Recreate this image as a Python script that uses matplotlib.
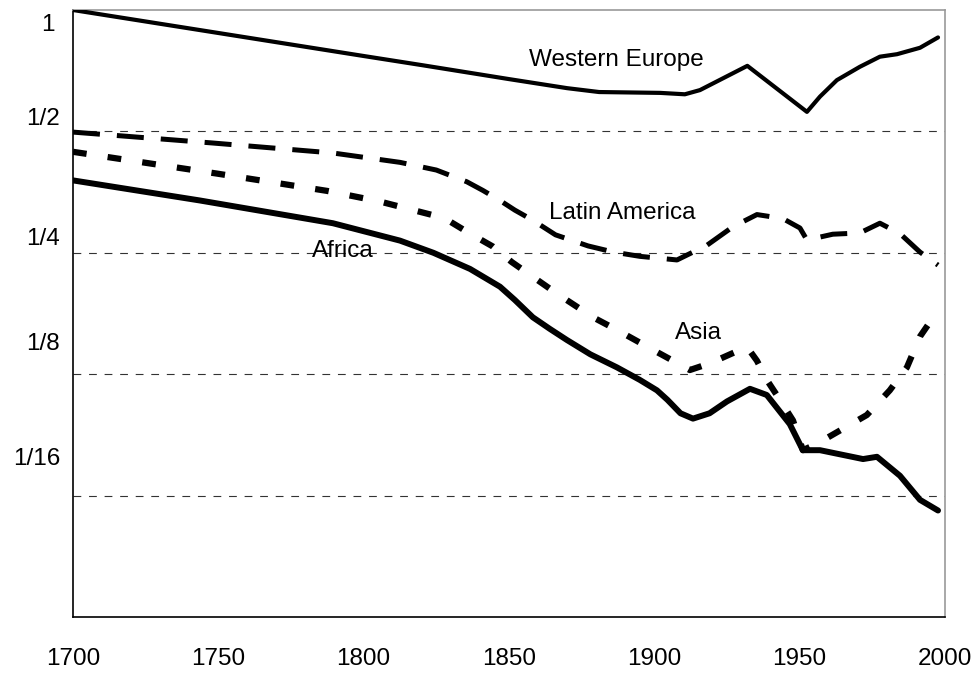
import matplotlib.pyplot as plt

plt.rcParams['font.family'] = ['Liberation Sans', 'DejaVu Sans']

# Data (values relative to Western Europe in 1700)
we_years = [1700, 1750, 1800, 1820, 1850, 1870, 1881, 1902, 1910.5, 1915.7,
            1932, 1952.5, 1957, 1962.8, 1970.7, 1977.6, 1983.5, 1991.4, 1997.6]
we_vals = [1.0, 0.877, 0.769, 0.730, 0.674, 0.640, 0.626, 0.623, 0.618, 0.633,
           0.727, 0.559, 0.610, 0.670, 0.723, 0.766, 0.777, 0.806, 0.855]

la_years = [1700, 1748, 1789.4, 1812.5, 1825, 1835.5, 1841, 1846.9, 1852, 1858.2,
            1866, 1877.2, 1886, 1895, 1907.8, 1918.1, 1927, 1935.3, 1944.2,
            1950.1, 1952.5, 1961.4, 1970.7, 1977.6, 1984.5, 1991.4, 1997.6]
la_vals = [0.498, 0.468, 0.442, 0.419, 0.401, 0.375, 0.357, 0.337, 0.319, 0.301,
           0.277, 0.260, 0.251, 0.245, 0.240, 0.261, 0.290, 0.311, 0.304,
           0.288, 0.269, 0.278, 0.280, 0.296, 0.279, 0.251, 0.233]

as_years = [1700, 1749.5, 1787.4, 1805.6, 1823.8, 1830, 1835.5, 1844.5, 1851,
            1858.2, 1866.5, 1878.9, 1887.1, 1898.5, 1906.4, 1912.2, 1919.1, 1927,
            1931.9, 1935.3, 1938.7, 1943.2, 1947.7, 1951.1, 1955.9, 1973.1, 1981,
            1986.9, 1991.4, 1997.6]
as_vals = [0.445, 0.393, 0.356, 0.335, 0.310, 0.298, 0.282, 0.259, 0.237,
           0.218, 0.198, 0.173, 0.161, 0.145, 0.135, 0.128, 0.133, 0.141,
           0.146, 0.135, 0.121, 0.108, 0.096, 0.081, 0.084, 0.099, 0.114,
           0.130, 0.155, 0.180]

af_years = [1700, 1743.7, 1789.4, 1812.5, 1824, 1836.6, 1846.9, 1852, 1858.2,
            1864, 1869.9, 1878, 1887.1, 1895, 1900.9, 1904.5, 1909, 1913.3, 1919,
            1925, 1932.9, 1938.7, 1946.6, 1951.1, 1957, 1971.8, 1976.6, 1984.5,
            1991.4, 1997.6]
af_vals = [0.378, 0.337, 0.296, 0.268, 0.250, 0.228, 0.206, 0.191, 0.173,
           0.162, 0.152, 0.140, 0.130, 0.121, 0.114, 0.108, 0.100, 0.097, 0.100,
           0.107, 0.115, 0.111, 0.094, 0.081, 0.081, 0.077, 0.078, 0.070,
           0.061, 0.0574]

y_levels = [1, 1/2, 1/4, 1/8, 1/16]
y_labels = ['1', '1/2', '1/4', '1/8', '1/16']
grid_levels = [1/2, 1/4, 1/8, 1/16]
x_ticks = [1700, 1750, 1800, 1850, 1900, 1950, 2000]

fig = plt.figure(figsize=(9.8, 6.73), dpi=100)
ax = fig.add_axes([73 / 980, 56 / 673, 872 / 980, 607 / 673])
ax.set_yscale('log', base=2)
ax.set_xlim(1700, 2000)
ax.set_ylim(1 / 32, 1)

# dashed reference lines
ax.hlines(grid_levels, 1700, 2000, colors='#333333', linewidth=0.8,
          linestyles=(0, (7, 7)), zorder=1)

ax.plot(we_years, we_vals, color='black', lw=3.0, solid_joinstyle='round',
        solid_capstyle='round', zorder=3)
ax.plot(la_years, la_vals, color='black', lw=3.6, dashes=(5.4, 3.4), zorder=3)
ax.plot(as_years, as_vals, color='black', lw=4.5, dashes=(2.2, 3.4), zorder=3)
ax.plot(af_years, af_vals, color='black', lw=4.3, solid_joinstyle='round',
        solid_capstyle='round', zorder=3)

fs = 17.5
ax.text(1887.0, 0.726, 'Western Europe', fontsize=fs, ha='center', va='baseline')
ax.text(1888.9, 0.304, 'Latin America', fontsize=fs, ha='center', va='baseline')
ax.text(1792.9, 0.2443, 'Africa', fontsize=fs, ha='center', va='baseline')
ax.text(1915.3, 0.1525, 'Asia', fontsize=fs, ha='center', va='baseline')

# y labels sit a bit off their lines in the original
ax.set_yticks([])
ax.minorticks_off()
label_offsets = [(-13, -11), (-9.4, 8.6), (-9.4, 10), (-9.4, 21.6), (-9, 26.6)]
for lvl, lab, (dx, dy) in zip(y_levels, y_labels, label_offsets):
    ax.annotate(lab, xy=(0, lvl), xycoords=('axes fraction', 'data'),
                xytext=(dx, dy), textcoords='offset points',
                ha='right', va='center', fontsize=fs)

ax.set_xticks(x_ticks)
ax.set_xticklabels([str(t) for t in x_ticks], fontsize=fs)
ax.tick_params(axis='x', length=0, pad=22)

for side in ['top', 'right']:
    ax.spines[side].set_color('#999999')
    ax.spines[side].set_linewidth(1.2)
for side in ['left', 'bottom']:
    ax.spines[side].set_color('black')
    ax.spines[side].set_linewidth(1.2)

fig.savefig('out.png', dpi=100)
